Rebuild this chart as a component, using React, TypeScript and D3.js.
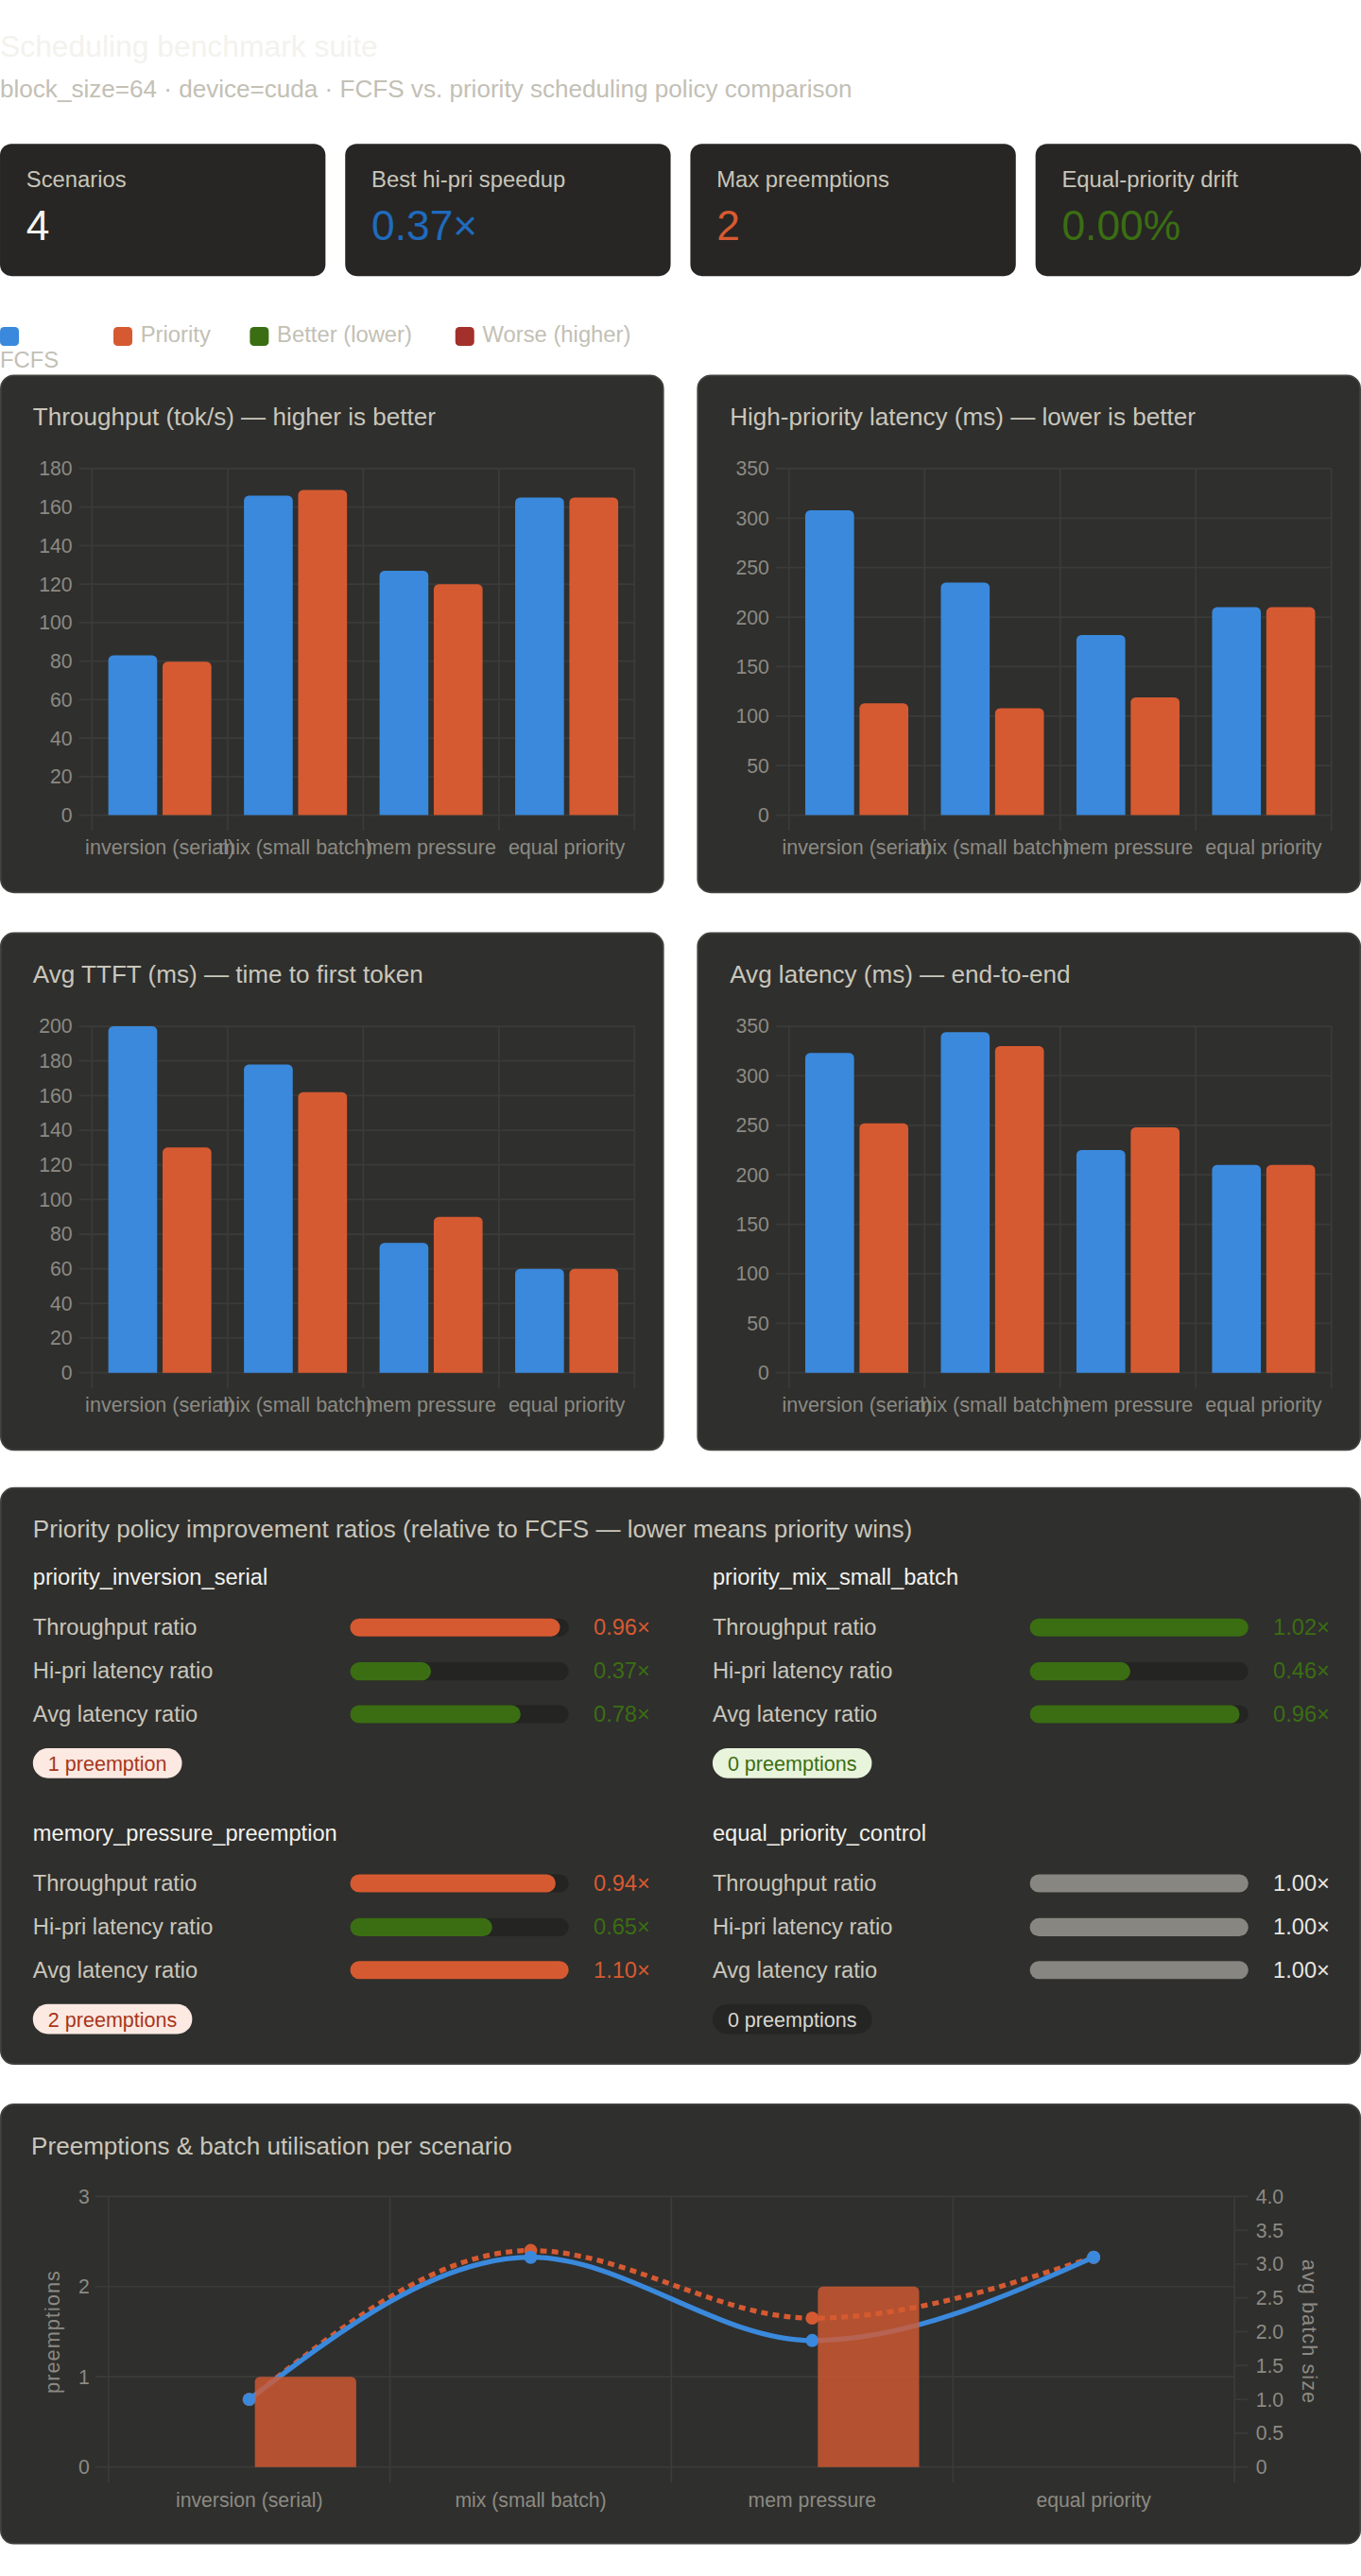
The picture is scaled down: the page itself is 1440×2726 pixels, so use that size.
import React from "react";
import * as d3 from "d3";

const FONT = '"Liberation Sans", Arial, Helvetica, sans-serif';

// ---- data ----
const scenarios = ["inversion (serial)", "mix (small batch)", "mem pressure", "equal priority"];
const scenarioIds = ["priority_inversion_serial", "priority_mix_small_batch", "memory_pressure_preemption", "equal_priority_control"];
const isControl = [false, false, false, true];

const throughputFcfs = [83, 166, 127, 165];
const throughputPrio = [79.7, 169, 120, 165];
const hiPriFcfs = [308, 235, 182, 210];
const hiPriPrio = [113, 108, 119, 210];
const ttftFcfs = [200, 178, 75, 60];
const ttftPrio = [130, 162, 90, 60];
const avgLatFcfs = [323, 344, 225, 210];
const avgLatPrio = [252, 330, 248, 210];

const throughputRatio = [0.96, 1.02, 0.94, 1.0];
const hiPriRatio = [0.37, 0.46, 0.65, 1.0];
const avgLatRatio = [0.78, 0.96, 1.1, 1.0];

const preemptFcfs = [0, 0, 0, 0];
const preemptPrio = [1, 0, 2, 0];
const batchFcfs = [1.0, 3.1, 1.87, 3.1];
const batchPrio = [1.0, 3.2, 2.2, 3.1];

const kpiLabels = ["Scenarios", "Best hi-pri speedup", "Max preemptions", "Equal-priority drift"];
const kpiValues = ["4", "0.37×", "2", "0.00%"];

const legendLabels = ["FCFS", "Priority", "Better (lower)", "Worse (higher)"];

// ---- colours ----
const BLUE = "#3a89dc";
const ORANGE = "#d65a31";
const GREEN = "#3b6e13";
const RED = "#a3302b";
const NEUTRAL = "#878680";
const PANEL = "#2f2f2d";
const CARD = "#272624";
const GRID = "#3b3b39";
const TICK = "#8c8a83";
const TITLE = "#c9c6bb";

const kpiColors = ["#f5f4ef", "#1f6bbd", "#d85a30", GREEN];
const legendColors = [BLUE, ORANGE, GREEN, RED];
const legendX = [0, 69, 152, 277];

let ctx: CanvasRenderingContext2D | null = null;
function textW(t: string, size: number) {
  if (!ctx) ctx = document.createElement("canvas").getContext("2d");
  if (!ctx) return t.length * size * 0.5;
  ctx.font = `${size}px "Liberation Sans"`;
  return ctx.measureText(t).width;
}

function topRounded(x: number, y: number, w: number, h: number, r: number) {
  const rr = Math.max(0, Math.min(r, w / 2, h));
  return `M${x},${y + h}V${y + rr}A${rr},${rr} 0 0 1 ${x + rr},${y}H${x + w - rr}A${rr},${rr} 0 0 1 ${x + w},${y + rr}V${y + h}Z`;
}

function Panel({ x, y, w, h }: { x: number; y: number; w: number; h: number }) {
  return <rect x={x + 0.5} y={y + 0.5} width={w - 1} height={h - 1} rx={8} fill={PANEL} stroke="#41413e" strokeWidth={1} />;
}

function BarPanel({ x, y, title, fcfs, prio, max, step }: any) {
  const w = 404, h = 315.5;
  const left = x + 56, right = x + 386, top = y + 57.2, zero = y + 268;
  const yS = d3.scaleLinear().domain([0, max]).range([zero, top]);
  const xS = d3.scaleBand<string>().domain(scenarios).range([left, right]);
  const bw = xS.bandwidth();
  const inner = d3.scaleBand<string>().domain(["fcfs", "prio"]).range([0, bw * 0.8]);
  const slot = inner.bandwidth();
  const ticks = d3.range(0, max + step / 2, step);
  const edges = [...scenarios.map((s) => xS(s) as number), right];
  return (
    <g>
      <Panel x={x} y={y} w={w} h={h} />
      <text x={x + 20} y={y + 30.8} fontSize={15} fill={TITLE}>{title}</text>
      {ticks.map((t: number) => (
        <g key={t}>
          <line x1={left - 8} x2={right} y1={yS(t)} y2={yS(t)} stroke={GRID} />
          <text x={left - 12} y={yS(t)} dy="0.35em" textAnchor="end" fontSize={12.2} fill={TICK}>{t}</text>
        </g>
      ))}
      {edges.map((e, i) => (
        <line key={i} x1={e} x2={e} y1={top} y2={zero + 9.5} stroke={GRID} />
      ))}
      {scenarios.map((s, i) => {
        const b0 = (xS(s) as number) + bw * 0.1;
        return (
          <g key={s}>
            {[["fcfs", fcfs[i], BLUE], ["prio", prio[i], ORANGE]].map(([k, v, c]: any) => (
              <path key={k} d={topRounded(b0 + (inner(k) as number) + slot * 0.05, yS(v), slot * 0.9, zero - yS(v), 3)} fill={c} />
            ))}
            <text x={(xS(s) as number) + bw / 2} y={y + 292} textAnchor="middle" fontSize={12.4} fill={TICK}>{s}</text>
          </g>
        );
      })}
    </g>
  );
}

function ratioColor(r: number, higherBetter: boolean, control: boolean) {
  if (control) return NEUTRAL;
  const good = higherBetter ? r >= 1 : r <= 1;
  return good ? GREEN : ORANGE;
}

function RatioBlock({ cx, hy, i }: { cx: number; hy: number; i: number }) {
  const rows = [
    ["Throughput ratio", throughputRatio[i], true],
    ["Hi-pri latency ratio", hiPriRatio[i], false],
    ["Avg latency ratio", avgLatRatio[i], false],
  ] as [string, number, boolean][];
  const rowY = [30.6, 57.3, 83.4];
  const trackX = cx + 193, trackW = 133, th = 11;
  const fillS = d3.scaleLinear().domain([0, 1]).range([0, trackW]).clamp(true);
  const n = preemptPrio[i];
  const pillText = `${n} preemption${n === 1 ? "" : "s"}`;
  const pillW = textW(pillText, 12.4) + 18.4;
  const control = isControl[i];
  const pillFill = control ? "#252523" : n > 0 ? "#fbe9e2" : "#e9f4dc";
  const pillInk = control ? "#d8d6d0" : n > 0 ? "#a8361a" : GREEN;
  return (
    <g>
      <text x={cx} y={hy} fontSize={13.6} fill="#f2f1ec">{scenarioIds[i]}</text>
      {rows.map(([label, r, hb], k) => {
        const by = hy + rowY[k];
        const c = ratioColor(r, hb, control);
        return (
          <g key={label}>
            <text x={cx} y={by} fontSize={13.6} fill={TITLE}>{label}</text>
            <rect x={trackX} y={by - 10} width={trackW} height={th} rx={th / 2} fill="#242422" />
            <rect x={trackX} y={by - 10} width={fillS(r)} height={th} rx={th / 2} fill={c} />
            <text x={cx + 375.5} y={by} textAnchor="end" fontSize={13.6} fill={control ? "#e8e6e0" : c}>{r.toFixed(2)}×</text>
          </g>
        );
      })}
      <rect x={cx} y={hy + 99.6} width={pillW} height={18.2} rx={9.1} fill={pillFill} />
      <text x={cx + 9.2} y={hy + 113.6} fontSize={12.4} fill={pillInk}>{pillText}</text>
    </g>
  );
}

function ComboPanel({ y }: { y: number }) {
  const x = 0, w = 828, h = 268.3;
  const left = 66, right = 751, top = y + 56.5, zero = y + 221.2;
  const xS = d3.scaleBand<string>().domain(scenarios).range([left, right]);
  const bw = xS.bandwidth();
  const yL = d3.scaleLinear().domain([0, 3]).range([zero, top]);
  const yR = d3.scaleLinear().domain([0, 4]).range([zero, top]);
  const inner = d3.scaleBand<string>().domain(["fcfs", "prio"]).range([0, bw * 0.8]);
  const slot = inner.bandwidth();
  const cxOf = (i: number) => (xS(scenarios[i]) as number) + bw / 2;
  const line = d3.line<number>().x((_, i) => cxOf(i)).y((v) => yR(v)).curve(d3.curveMonotoneX);
  const edges = [...scenarios.map((s) => xS(s) as number), right];
  const rTicks = d3.range(0, 4.01, 0.5);
  return (
    <g>
      <Panel x={x} y={y} w={w} h={h} />
      <text x={19} y={y + 31} fontSize={15} fill={TITLE}>Preemptions &amp; batch utilisation per scenario</text>
      {yL.ticks(3).map((t) => (
        <g key={t}>
          <line x1={left - 8} x2={right} y1={yL(t)} y2={yL(t)} stroke={GRID} />
          <text x={left - 11.5} y={yL(t)} dy="0.35em" textAnchor="end" fontSize={12.2} fill={TICK}>{t}</text>
        </g>
      ))}
      {rTicks.map((t) => (
        <g key={t}>
          <line x1={right} x2={right + 8} y1={yR(t)} y2={yR(t)} stroke={GRID} />
          <text x={right + 13} y={yR(t)} dy="0.35em" fontSize={12.2} fill={TICK}>{t === 0 ? "0" : t.toFixed(1)}</text>
        </g>
      ))}
      {edges.map((e, i) => (
        <line key={i} x1={e} x2={e} y1={top} y2={zero + 9.5} stroke={GRID} />
      ))}
      <text transform={`translate(32,${(top + zero) / 2}) rotate(-90)`} dy="0.35em" textAnchor="middle" fontSize={12.5} fill={TICK} letterSpacing={0.6}>preemptions</text>
      <text transform={`translate(797,${(top + zero) / 2}) rotate(90)`} dy="0.35em" textAnchor="middle" fontSize={12.5} fill={TICK} letterSpacing={0.6}>avg batch size</text>
      <path d={line(batchPrio) || ""} fill="none" stroke={ORANGE} strokeWidth={3} strokeDasharray="4 3" />
      {batchPrio.map((v, i) => <circle key={i} cx={cxOf(i)} cy={yR(v)} r={4} fill={ORANGE} />)}
      <path d={line(batchFcfs) || ""} fill="none" stroke={BLUE} strokeWidth={3} />
      {batchFcfs.map((v, i) => <circle key={i} cx={cxOf(i)} cy={yR(v)} r={4} fill={BLUE} />)}
      {scenarios.map((s, i) => {
        const b0 = (xS(s) as number) + bw * 0.1;
        return (
          <g key={s}>
            {[["fcfs", preemptFcfs[i]], ["prio", preemptPrio[i]]].map(([k, v]: any) =>
              v > 0 ? (
                <path key={k} d={topRounded(b0 + (inner(k) as number) + slot * 0.05, yL(v), slot * 0.9, zero - yL(v), 3)} fill={ORANGE} fillOpacity={0.8} />
              ) : null
            )}
            <text x={cxOf(i)} y={y + 245.7} textAnchor="middle" fontSize={12.2} fill={TICK}>{s}</text>
          </g>
        );
      })}
    </g>
  );
}

export default function App() {
  return (
    <svg width={1440} height={2726} viewBox="0 0 828 1567.5" style={{ position: "absolute", left: 0, top: 0, display: "block" }} fontFamily={FONT}>
      <rect x={0} y={0} width={828} height={1567.5} fill="#ffffff" />
      <text x={0} y={34.5} fontSize={18.3} fill="#f3f2ed">Scheduling benchmark suite</text>
      <text x={0} y={59.2} fontSize={15} fill="#c3c0b5">block_size=64 · device=cuda · FCFS vs. priority scheduling policy comparison</text>

      {kpiLabels.map((l, i) => {
        const cx = i * 210;
        return (
          <g key={l}>
            <rect x={cx} y={87.5} width={198} height={80.5} rx={7} fill={CARD} />
            <text x={cx + 16} y={113.9} fontSize={13.7} fill="#c8c5ba">{l}</text>
            <text x={cx + 16} y={146} fontSize={25.5} fill={kpiColors[i]}>{kpiValues[i]}</text>
          </g>
        );
      })}

      {legendLabels.map((l, i) => (
        <g key={l}>
          <rect x={legendX[i]} y={199} width={11.5} height={11.5} rx={2.5} fill={legendColors[i]} />
          {i === 0 ? (
            <text x={0} y={223.7} fontSize={13.7} fill="#c3c0b5">{l}</text>
          ) : (
            <text x={legendX[i] + 16.5} y={208.3} fontSize={13.7} fill="#c3c0b5">{l}</text>
          )}
        </g>
      ))}

      <BarPanel x={0} y={228} title="Throughput (tok/s) — higher is better" fcfs={throughputFcfs} prio={throughputPrio} max={180} step={20} />
      <BarPanel x={424} y={228} title="High-priority latency (ms) — lower is better" fcfs={hiPriFcfs} prio={hiPriPrio} max={350} step={50} />
      <BarPanel x={0} y={567.3} title="Avg TTFT (ms) — time to first token" fcfs={ttftFcfs} prio={ttftPrio} max={200} step={20} />
      <BarPanel x={424} y={567.3} title="Avg latency (ms) — end-to-end" fcfs={avgLatFcfs} prio={avgLatPrio} max={350} step={50} />

      <Panel x={0} y={905} w={828} h={351.4} />
      <text x={20} y={935.7} fontSize={15} fill={TITLE}>Priority policy improvement ratios (relative to FCFS — lower means priority wins)</text>
      {scenarioIds.map((id, i) => (
        <RatioBlock key={id} i={i} cx={i % 2 === 0 ? 20 : 433.5} hy={i < 2 ? 964.2 : 1119.9} />
      ))}

      <ComboPanel y={1280} />
    </svg>
  );
}
